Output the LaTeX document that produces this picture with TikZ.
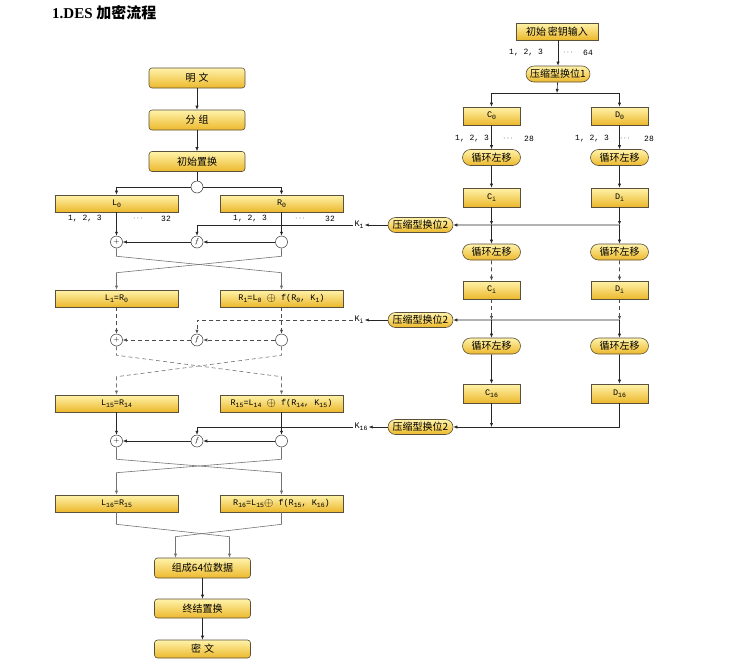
\documentclass[tikz,border=0pt]{standalone}
\usepackage{fontspec}
\setmainfont{Liberation Serif}
\newfontfamily\cjk{Noto Sans CJK SC}
\newfontfamily\mono{Liberation Mono}
\usetikzlibrary{arrows.meta,shapes.misc}
\definecolor{boxtop}{RGB}{255,243,170}
\definecolor{boxbot}{RGB}{236,184,44}
\definecolor{edgec}{RGB}{90,80,60}
\newcommand{\dsub}[1]{\raisebox{-2pt}{\fontsize{6.5}{6.5}\selectfont #1}}
\newcommand{\xorsym}{\raisebox{-0.5pt}{\large$\oplus$}}
\tikzset{
  boxbase/.style={draw=edgec, line width=0.6pt, top color=boxtop, bottom color=boxbot, inner sep=0pt},
  mainbox/.style={boxbase, rounded corners=3pt, minimum width=96pt, minimum height=20pt, font=\cjk\fontsize{10}{10}\selectfont},
  lrbox/.style={boxbase, minimum width=123pt, minimum height=17pt, font=\mono\fontsize{8.5}{8.5}\selectfont},
  cdbox/.style={boxbase, minimum width=57pt, minimum height=18pt, font=\mono\fontsize{8.5}{8.5}\selectfont},
  keybox/.style={boxbase, minimum width=82pt, minimum height=17pt, font=\cjk\fontsize{10}{10}\selectfont},
  pill/.style={boxbase, rounded rectangle, minimum width=58pt, minimum height=16pt, font=\cjk\fontsize{10}{10}\selectfont},
  cpill/.style={pill, minimum width=65pt, minimum height=15pt},
  op/.style={circle, draw=black!80, fill=white, minimum size=12pt, inner sep=0pt, line width=0.5pt, font=\fontsize{7}{7}\selectfont},
  lbl/.style={inner sep=0pt, font=\mono\fontsize{8}{8}\selectfont},
  klbl/.style={inner sep=1pt, font=\mono\fontsize{8.5}{8.5}\selectfont},
  arr/.style={-{Latex[length=4pt,width=3.2pt]}},
  ln/.style={draw=black!85, line width=0.6pt},
  dl/.style={draw=black!70, line width=0.6pt, dash pattern=on 4pt off 3pt},
  gl/.style={draw=black!55, line width=0.6pt},
  gdl/.style={draw=black!55, line width=0.6pt, dash pattern=on 4pt off 3pt},
}
\begin{document}
\begin{tikzpicture}[x=1pt,y=-1pt]
\useasboundingbox (0,0) rectangle (730,662);
% title
\node[anchor=west, inner sep=0pt, font=\bfseries\fontsize{15}{15}\selectfont] (title) at (52,13) {1.DES {\cjk\bfseries\fontsize{15}{15}\selectfont 加密流程}};

% ---------- left column ----------
\node[mainbox] (mw) at (197,78) {明\hspace{3pt}文};
\node[mainbox] (fz) at (197,120) {分\hspace{3pt}组};
\node[mainbox] (cs) at (197,161.5) {初始置换};
\node[op] (sp) at (197,187) {};
\node[lrbox] (L0) at (116.5,203.5) {L\dsub{0}};
\node[lrbox] (R0) at (281.5,203.5) {R\dsub{0}};
\node[lbl] (la1) at (85,219) {1, 2, 3};
\node[lbl] (la2) at (138,219) {$\cdots$};
\node[lbl] (la3) at (166,219) {32};
\node[lbl] (lb1) at (250,219) {1, 2, 3};
\node[lbl] (lb2) at (300,219) {$\cdots$};
\node[lbl] (lb3) at (330,219) {32};

\node[op] (x1) at (116.5,242) {$+$};
\node[op] (f1) at (197,242) {$f$};
\node[op] (o1) at (281.5,242) {};
\node[klbl] (K1) at (359,225) {K\dsub{1}};

\node[lrbox] (L1) at (116.5,298.5) {L\dsub{1}=R\dsub{0}};
\node[lrbox] (R1) at (281.5,298.5) {R\dsub{1}=L\dsub{0} \xorsym{} f(R\dsub{0}, K\dsub{1})};

\node[op] (x2) at (116.5,340) {$+$};
\node[op] (f2) at (197,340) {$f$};
\node[op] (o2) at (281.5,340) {};
\node[klbl] (Ki) at (359,320) {K\dsub{i}};

\node[lrbox] (L15) at (116.5,403.5) {L\dsub{15}=R\dsub{14}};
\node[lrbox] (R15) at (281.5,403.5) {R\dsub{15}=L\dsub{14} \xorsym{} f(R\dsub{14}, K\dsub{15})};

\node[op] (x3) at (116.5,441) {$+$};
\node[op] (f3) at (197,441) {$f$};
\node[op] (o3) at (281.5,441) {};
\node[klbl] (K16) at (361,427) {K\dsub{16}};

\node[lrbox] (L16) at (116.5,503.5) {L\dsub{16}=R\dsub{15}};
\node[lrbox] (R16) at (281.5,503.5) {R\dsub{16}=L\dsub{15}\xorsym{} f(R\dsub{15}, K\dsub{16})};

\node[mainbox] (zh) at (202.5,568) {组成64位数据};
\node[mainbox, minimum height=19pt] (zj) at (202.5,608.5) {终结置换};
\node[mainbox, minimum height=18pt] (mi) at (202.5,649) {密\hspace{3pt}文};

% left connectors
\draw[ln,arr] (mw) -- (fz);
\draw[ln,arr] (fz) -- (cs);
\draw[ln] (cs) -- (sp);
\draw[ln,arr] (sp) -| (L0);
\draw[ln,arr] (sp) -| (R0);
\draw[ln,arr] (L0) -- (x1);
\draw[ln,arr] (R0) -- (o1);
\draw[ln,arr] (o1) -- (f1);
\draw[ln,arr] (f1) -- (x1);
\draw[ln,arr] (K1) -| (f1);
\draw[gl,arr] (x1.south) -- ++(0,8) -- ([yshift=17pt]R1.north) -- (R1.north);
\draw[gl,arr] (o1.south) -- ++(0,8) -- ([yshift=17pt]L1.north) -- (L1.north);

\draw[dl,arr] (L1) -- (x2);
\draw[dl,arr] (R1) -- (o2);
\draw[dl,arr] (o2) -- (f2);
\draw[dl,arr] (f2) -- (x2);
\draw[dl,arr] (Ki) -| (f2);
\draw[gdl,arr] (x2.south) -- ++(0,9) -- ([yshift=18pt]R15.north) -- (R15.north);
\draw[gdl,arr] (o2.south) -- ++(0,9) -- ([yshift=18pt]L15.north) -- (L15.north);

\draw[ln,arr] (L15) -- (x3);
\draw[ln,arr] (R15) -- (o3);
\draw[ln,arr] (o3) -- (f3);
\draw[ln,arr] (f3) -- (x3);
\draw[ln,arr] (K16) -| (f3);
\draw[gl,arr] (x3.south) -- ++(0,12) -- ([yshift=22pt]R16.north) -- (R16.north);
\draw[gl,arr] (o3.south) -- ++(0,12) -- ([yshift=22pt]L16.north) -- (L16.north);

\draw[gl,arr] (L16.south) -- ++(0,12) -- ([xshift=27pt,yshift=21pt]zh.north) -- ([xshift=27pt]zh.north);
\draw[gl,arr] (R16.south) -- ++(0,12) -- ([xshift=-27pt,yshift=21pt]zh.north) -- ([xshift=-27pt]zh.north);
\draw[ln,arr] (zh) -- (zj);
\draw[ln,arr] (zj) -- (mi);

% ---------- right column ----------
\node[keybox] (key) at (557,31.5) {初始\,密钥输入};
\node[lbl] (ka1) at (526,53) {1, 2, 3};
\node[lbl] (ka2) at (568,53) {$\cdots$};
\node[lbl] (ka3) at (588,53) {64};
\node[pill, minimum width=64pt] (p0) at (558,74) {压缩型换位1};
\coordinate (s0) at (557,93);

\node[cdbox] (C0) at (491.5,116) {C\dsub{0}};
\node[cdbox] (D0) at (619.5,116) {D\dsub{0}};
\node[lbl] (ca1) at (472,139) {1, 2, 3};
\node[lbl] (ca2) at (508,139) {$\cdots$};
\node[lbl] (ca3) at (529,139) {28};
\node[lbl] (da1) at (592,139) {1, 2, 3};
\node[lbl] (da2) at (625,139) {$\cdots$};
\node[lbl] (da3) at (649,139) {28};

\node[pill] (rc1) at (491.5,157.5) {循环左移};
\node[pill] (rd1) at (619.5,157.5) {循环左移};
\node[cdbox, minimum height=19pt] (Ci1) at (491.5,197.5) {C\dsub{i}};
\node[cdbox, minimum height=19pt] (Di1) at (619.5,197.5) {D\dsub{i}};
\node[cpill] (p1) at (420.5,225) {压缩型换位2};
\coordinate (jc1) at (491.5,225);
\coordinate (jd1) at (619.5,225);

\node[pill] (rc2) at (491.5,252) {循环左移};
\node[pill] (rd2) at (619.5,252) {循环左移};
\node[cdbox] (Ci2) at (491.5,290) {C\dsub{i}};
\node[cdbox] (Di2) at (619.5,290) {D\dsub{i}};
\node[cpill] (p2) at (420.5,320) {压缩型换位2};
\coordinate (jc2) at (491.5,320);
\coordinate (jd2) at (619.5,320);

\node[pill] (rc3) at (491.5,346) {循环左移};
\node[pill] (rd3) at (619.5,346) {循环左移};
\node[cdbox, minimum height=19pt] (C16) at (491.5,393.5) {C\dsub{16}};
\node[cdbox, minimum height=19pt] (D16) at (619.5,393.5) {D\dsub{16}};
\node[cpill] (p3) at (420.5,427) {压缩型换位2};
\coordinate (jc3) at (491.5,427);

% right connectors
\draw[ln,arr] (key.south -| p0.north) -- (p0.north);
\draw[ln,arr] (p0) -- (s0);
\draw[ln,arr] (s0) -| (C0);
\draw[ln,arr] (s0) -| (D0);
\draw[ln,arr] (C0) -- (rc1);
\draw[ln,arr] (D0) -- (rd1);
\draw[ln,arr] (rc1) -- (Ci1);
\draw[ln,arr] (rd1) -- (Di1);
\draw[ln,arr] (Ci1) -- (jc1);
\draw[ln,arr] (Di1) -- (jd1);
\draw[ln,arr] (jc1) -- (rc2);
\draw[ln,arr] (jd1) -- (rd2);
\draw[ln,arr] (jd1) -- (p1);
\draw[ln,arr] (p1) -- (K1);

\draw[dl,arr] (rc2) -- (Ci2);
\draw[dl,arr] (rd2) -- (Di2);
\draw[dl,arr] (Ci2) -- (jc2);
\draw[dl,arr] (Di2) -- (jd2);
\draw[ln,arr] (jc2) -- (rc3);
\draw[ln,arr] (jd2) -- (rd3);
\draw[ln,arr] (jd2) -- (p2);
\draw[ln,arr] (p2) -- (Ki);

\draw[ln,arr] (rc3) -- (C16);
\draw[ln,arr] (rd3) -- (D16);
\draw[ln,arr] (C16) -- (jc3);
\draw[ln,arr] (D16) |- (p3);
\draw[ln,arr] (p3) -- (K16);
\end{tikzpicture}
\end{document}
